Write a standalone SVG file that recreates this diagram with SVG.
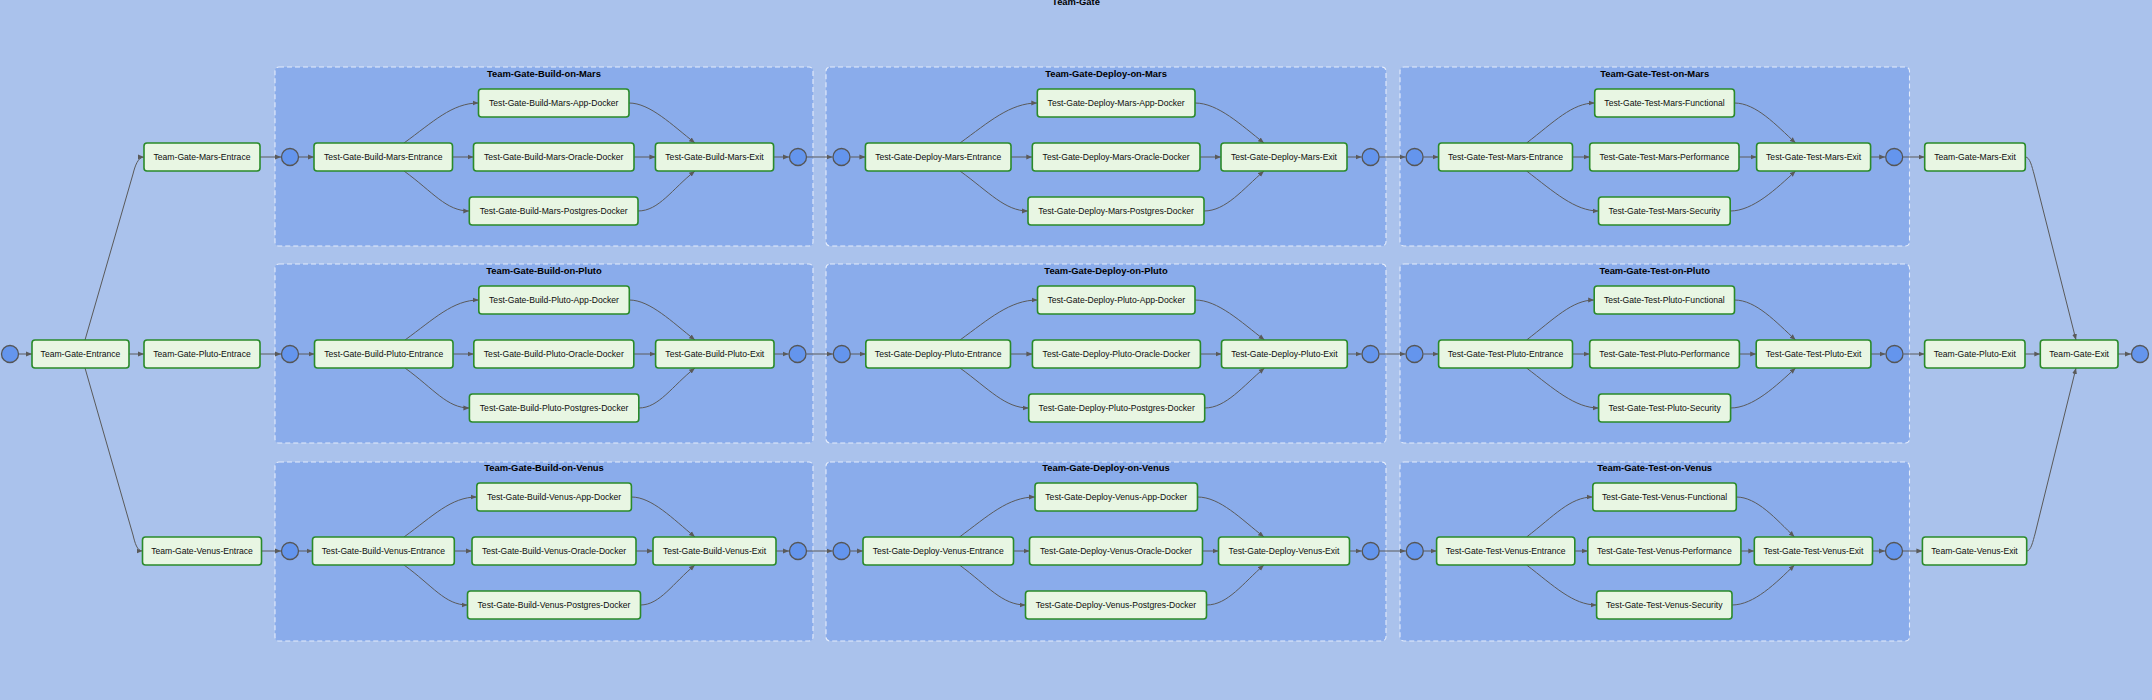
<svg xmlns="http://www.w3.org/2000/svg" width="2152" height="700" viewBox="0 0 2152 700">
<defs>
<style>
.bg{fill:#aac2ec}
.cl rect{fill:#8aaceb;stroke:#e4ecfb;stroke-width:1.1;stroke-dasharray:5 3}
.cl text,.ttl{font-family:"Liberation Sans",Arial,sans-serif;font-size:9.4px;font-weight:bold;fill:#000;text-anchor:middle}
.n rect{fill:#e8f6e3;stroke:#2a8a2a;stroke-width:1.6}
.n text{font-family:"Liberation Sans",Arial,sans-serif;font-size:8.6px;fill:#0d0d0d;text-anchor:middle}
.s circle{fill:#6495ed;stroke:#555;stroke-width:1.3}
.e path{fill:none;stroke:#5a5a5a;stroke-width:1;marker-end:url(#a)}
</style>
<marker id="a" viewBox="0 0 10 10" refX="10" refY="5" markerUnits="userSpaceOnUse" markerWidth="6" markerHeight="6" orient="auto">
<path d="M0,1 L10,5 L0,9 z" fill="#5a5a5a"/>
</marker>
</defs>
<rect class="bg" x="0" y="0" width="2152" height="700"/>
<text class="ttl" x="1076" y="5">Team-Gate</text>

<g id="clusters" class="cl">
<g id="Team-Gate-Build-on-Mars"><rect x="275" y="67" width="538" height="179" rx="4"/><text x="544" y="76.5">Team-Gate-Build-on-Mars</text></g>
<g id="Team-Gate-Deploy-on-Mars"><rect x="826" y="67" width="560" height="179" rx="4"/><text x="1106" y="76.5">Team-Gate-Deploy-on-Mars</text></g>
<g id="Team-Gate-Test-on-Mars"><rect x="1400" y="67" width="509.5" height="179" rx="4"/><text x="1654.7" y="76.5">Team-Gate-Test-on-Mars</text></g>
<g id="Team-Gate-Build-on-Pluto"><rect x="275" y="264" width="538" height="179" rx="4"/><text x="544" y="273.5">Team-Gate-Build-on-Pluto</text></g>
<g id="Team-Gate-Deploy-on-Pluto"><rect x="826" y="264" width="560" height="179" rx="4"/><text x="1106" y="273.5">Team-Gate-Deploy-on-Pluto</text></g>
<g id="Team-Gate-Test-on-Pluto"><rect x="1400" y="264" width="509.5" height="179" rx="4"/><text x="1654.7" y="273.5">Team-Gate-Test-on-Pluto</text></g>
<g id="Team-Gate-Build-on-Venus"><rect x="275" y="462" width="538" height="179" rx="4"/><text x="544" y="471">Team-Gate-Build-on-Venus</text></g>
<g id="Team-Gate-Deploy-on-Venus"><rect x="826" y="462" width="560" height="179" rx="4"/><text x="1106" y="471">Team-Gate-Deploy-on-Venus</text></g>
<g id="Team-Gate-Test-on-Venus"><rect x="1400" y="462" width="509.5" height="179" rx="4"/><text x="1654.7" y="471">Team-Gate-Test-on-Venus</text></g>
</g>

<g id="connectors" class="e">
<path d="M19,354 L32,354"/>
<path d="M85,340 L133,174 C135,166 138,157 144,157"/>
<path d="M129,354 L144,354"/>
<path d="M85,368 L133,535 C135,543 137,551 142.5,551"/>
<!-- Mars -->
<path d="M260,157 L281,157"/>
<path d="M299,157 L314,157"/>
<path d="M404,143 C433,122 452,103 478.5,103"/>
<path d="M452.5,157 L473.5,157"/>
<path d="M404,171 C433,192 446,211 469.3,211"/>
<path d="M629,103 C650,103 672,125 695,143"/>
<path d="M634,157 L655.4,157"/>
<path d="M638,211 C659,211 672,189 695,171"/>
<path d="M773.6,157 L789,157"/>
<path d="M807,157 L832.5,157"/>
<path d="M850.5,157 L865.4,157"/>
<path d="M960,143 C989,122 1010,103 1037.3,103"/>
<path d="M1011,157 L1032.3,157"/>
<path d="M960,171 C989,192 1005,211 1028,211"/>
<path d="M1195,103 C1218,103 1241,125 1264,143"/>
<path d="M1200,157 L1221,157"/>
<path d="M1204,211 C1226,211 1243,189 1264,171"/>
<path d="M1347,157 L1361.6,157"/>
<path d="M1379.6,157 L1405.6,157"/>
<path d="M1423.6,157 L1438.6,157"/>
<path d="M1526.6,143 C1554,122 1572,103 1594.7,103"/>
<path d="M1572.5,157 L1589.7,157"/>
<path d="M1526.6,171 C1554,192 1575,211 1598.5,211"/>
<path d="M1734.4,103 C1756,103 1776,125 1795.6,143"/>
<path d="M1739,157 L1756.6,157"/>
<path d="M1730.2,211 C1753,211 1776,189 1795.6,171"/>
<path d="M1870.6,157 L1885.2,157"/>
<path d="M1903.2,157 L1924.7,157"/>
<path d="M2025.3,157 C2030,157 2032,167 2034,174 L2076,340"/>
<!-- Pluto -->
<path d="M260,354 L281,354"/>
<path d="M299,354 L314.5,354"/>
<path d="M405,340 C434,319 453,300 478.8,300"/>
<path d="M453,354 L473.8,354"/>
<path d="M405,368 C434,389 447,408 469.4,408"/>
<path d="M629.3,300 C650,300 672,322 695,340"/>
<path d="M633.8,354 L655.6,354"/>
<path d="M638.8,408 C659,408 672,386 695,368"/>
<path d="M774,354 L788.5,354"/>
<path d="M806.5,354 L832.8,354"/>
<path d="M850.8,354 L865.8,354"/>
<path d="M960,340 C989,319 1010,300 1037.5,300"/>
<path d="M1010.5,354 L1032.4,354"/>
<path d="M960,368 C989,389 1005,408 1028.7,408"/>
<path d="M1195,300 C1218,300 1241,322 1264.5,340"/>
<path d="M1200.4,354 L1221.5,354"/>
<path d="M1204.7,408 C1226,408 1243,386 1264.5,368"/>
<path d="M1347.3,354 L1361.5,354"/>
<path d="M1379.5,354 L1405.5,354"/>
<path d="M1423.5,354 L1438.6,354"/>
<path d="M1526.6,340 C1554,319 1572,300 1594.2,300"/>
<path d="M1572.5,354 L1589.7,354"/>
<path d="M1526.6,368 C1554,389 1575,408 1598.6,408"/>
<path d="M1734.5,300 C1756,300 1776,322 1795.6,340"/>
<path d="M1739.4,354 L1756.2,354"/>
<path d="M1730.6,408 C1753,408 1776,386 1795.6,368"/>
<path d="M1870.9,354 L1885.5,354"/>
<path d="M1903.5,354 L1924.6,354"/>
<path d="M2025,354 L2040.3,354"/>
<path d="M2118,354 L2131,354"/>
<!-- Venus -->
<path d="M261.5,551 L281,551"/>
<path d="M299,551 L312.5,551"/>
<path d="M404,537 C433,516 451,497 476.8,497"/>
<path d="M454.3,551 L472,551"/>
<path d="M404,565 C433,586 445,605 467.5,605"/>
<path d="M631.4,497 C652,497 673,519 695,537"/>
<path d="M636,551 L653,551"/>
<path d="M640.4,605 C660,605 673,583 695,565"/>
<path d="M776,551 L789,551"/>
<path d="M807,551 L832.5,551"/>
<path d="M850.5,551 L863,551"/>
<path d="M959.5,537 C988,516 1008,497 1035,497"/>
<path d="M1013.5,551 L1029.5,551"/>
<path d="M959.5,565 C988,586 1002,605 1025.5,605"/>
<path d="M1197.5,497 C1220,497 1241,519 1264,537"/>
<path d="M1202.5,551 L1218.5,551"/>
<path d="M1206.5,605 C1228,605 1243,583 1264,565"/>
<path d="M1349.5,551 L1361.7,551"/>
<path d="M1379.7,551 L1405.8,551"/>
<path d="M1423.8,551 L1436.6,551"/>
<path d="M1526.6,537 C1554,516 1570,497 1592.8,497"/>
<path d="M1574.8,551 L1587.8,551"/>
<path d="M1526.6,565 C1554,586 1573,605 1596.6,605"/>
<path d="M1736.3,497 C1757,497 1776,519 1794.5,537"/>
<path d="M1740.9,551 L1754.3,551"/>
<path d="M1732,605 C1754,605 1776,583 1794.5,565"/>
<path d="M1872.5,551 L1885,551"/>
<path d="M1903,551 L1922.4,551"/>
<path d="M2026.7,551 C2031,551 2033,541 2035,534 L2076,368"/>
</g>

<g id="states" class="s">
<g id="start"><circle cx="10" cy="354" r="8.5"/></g>
<g id="mars-in"><circle cx="290" cy="157" r="8.5"/></g>
<g id="pluto-in"><circle cx="290" cy="354" r="8.5"/></g>
<g id="venus-in"><circle cx="290" cy="551" r="8.5"/></g>
<g id="build-mars-out"><circle cx="798" cy="157" r="8.5"/></g>
<g id="build-pluto-out"><circle cx="797.5" cy="354" r="8.5"/></g>
<g id="build-venus-out"><circle cx="798" cy="551" r="8.5"/></g>
<g id="deploy-mars-in"><circle cx="841.5" cy="157" r="8.5"/></g>
<g id="deploy-pluto-in"><circle cx="841.8" cy="354" r="8.5"/></g>
<g id="deploy-venus-in"><circle cx="841.5" cy="551" r="8.5"/></g>
<g id="deploy-mars-out"><circle cx="1370.6" cy="157" r="8.5"/></g>
<g id="deploy-pluto-out"><circle cx="1370.5" cy="354" r="8.5"/></g>
<g id="deploy-venus-out"><circle cx="1370.7" cy="551" r="8.5"/></g>
<g id="test-mars-in"><circle cx="1414.6" cy="157" r="8.5"/></g>
<g id="test-pluto-in"><circle cx="1414.5" cy="354" r="8.5"/></g>
<g id="test-venus-in"><circle cx="1414.8" cy="551" r="8.5"/></g>
<g id="test-mars-out"><circle cx="1894.2" cy="157" r="8.5"/></g>
<g id="test-pluto-out"><circle cx="1894.5" cy="354" r="8.5"/></g>
<g id="test-venus-out"><circle cx="1894" cy="551" r="8.5"/></g>
<g id="end"><circle cx="2140" cy="354" r="8.5"/></g>
</g>

<g id="nodes" class="n">
<g id="Team-Gate-Entrance"><rect x="32" y="340" width="97" height="28" rx="3"/><text x="80.5" y="357">Team-Gate-Entrance</text></g>
<g id="Team-Gate-Mars-Entrace"><rect x="144" y="143" width="116" height="28" rx="3"/><text x="202" y="160">Team-Gate-Mars-Entrace</text></g>
<g id="Team-Gate-Pluto-Entrace"><rect x="144" y="340" width="116" height="28" rx="3"/><text x="202" y="357">Team-Gate-Pluto-Entrace</text></g>
<g id="Team-Gate-Venus-Entrace"><rect x="142.5" y="537" width="119" height="28" rx="3"/><text x="202" y="554">Team-Gate-Venus-Entrace</text></g>

<g id="Test-Gate-Build-Mars-Entrance"><rect x="314" y="143" width="138.5" height="28" rx="3"/><text x="383.25" y="160">Test-Gate-Build-Mars-Entrance</text></g>
<g id="Test-Gate-Build-Mars-App-Docker"><rect x="478.5" y="89" width="150.5" height="28" rx="3"/><text x="553.75" y="106">Test-Gate-Build-Mars-App-Docker</text></g>
<g id="Test-Gate-Build-Mars-Oracle-Docker"><rect x="473.5" y="143" width="160.5" height="28" rx="3"/><text x="553.75" y="160">Test-Gate-Build-Mars-Oracle-Docker</text></g>
<g id="Test-Gate-Build-Mars-Postgres-Docker"><rect x="469.3" y="197" width="168.7" height="28" rx="3"/><text x="553.65" y="214">Test-Gate-Build-Mars-Postgres-Docker</text></g>
<g id="Test-Gate-Build-Mars-Exit"><rect x="655.4" y="143" width="118.2" height="28" rx="3"/><text x="714.5" y="160">Test-Gate-Build-Mars-Exit</text></g>

<g id="Test-Gate-Deploy-Mars-Entrance"><rect x="865.4" y="143" width="145.6" height="28" rx="3"/><text x="938.2" y="160">Test-Gate-Deploy-Mars-Entrance</text></g>
<g id="Test-Gate-Deploy-Mars-App-Docker"><rect x="1037.3" y="89" width="157.7" height="28" rx="3"/><text x="1116.15" y="106">Test-Gate-Deploy-Mars-App-Docker</text></g>
<g id="Test-Gate-Deploy-Mars-Oracle-Docker"><rect x="1032.3" y="143" width="167.7" height="28" rx="3"/><text x="1116.15" y="160">Test-Gate-Deploy-Mars-Oracle-Docker</text></g>
<g id="Test-Gate-Deploy-Mars-Postgres-Docker"><rect x="1028" y="197" width="176" height="28" rx="3"/><text x="1116" y="214">Test-Gate-Deploy-Mars-Postgres-Docker</text></g>
<g id="Test-Gate-Deploy-Mars-Exit"><rect x="1221" y="143" width="126" height="28" rx="3"/><text x="1284" y="160">Test-Gate-Deploy-Mars-Exit</text></g>

<g id="Test-Gate-Test-Mars-Entrance"><rect x="1438.6" y="143" width="133.9" height="28" rx="3"/><text x="1505.55" y="160">Test-Gate-Test-Mars-Entrance</text></g>
<g id="Test-Gate-Test-Mars-Functional"><rect x="1594.7" y="89" width="139.7" height="28" rx="3"/><text x="1664.55" y="106">Test-Gate-Test-Mars-Functional</text></g>
<g id="Test-Gate-Test-Mars-Performance"><rect x="1589.7" y="143" width="149.3" height="28" rx="3"/><text x="1664.35" y="160">Test-Gate-Test-Mars-Performance</text></g>
<g id="Test-Gate-Test-Mars-Security"><rect x="1598.5" y="197" width="131.7" height="28" rx="3"/><text x="1664.35" y="214">Test-Gate-Test-Mars-Security</text></g>
<g id="Test-Gate-Test-Mars-Exit"><rect x="1756.6" y="143" width="114" height="28" rx="3"/><text x="1813.6" y="160">Test-Gate-Test-Mars-Exit</text></g>

<g id="Test-Gate-Build-Pluto-Entrance"><rect x="314.5" y="340" width="138.5" height="28" rx="3"/><text x="383.75" y="357">Test-Gate-Build-Pluto-Entrance</text></g>
<g id="Test-Gate-Build-Pluto-App-Docker"><rect x="478.8" y="286" width="150.5" height="28" rx="3"/><text x="554.05" y="303">Test-Gate-Build-Pluto-App-Docker</text></g>
<g id="Test-Gate-Build-Pluto-Oracle-Docker"><rect x="473.8" y="340" width="160" height="28" rx="3"/><text x="553.8" y="357">Test-Gate-Build-Pluto-Oracle-Docker</text></g>
<g id="Test-Gate-Build-Pluto-Postgres-Docker"><rect x="469.4" y="394" width="169.4" height="28" rx="3"/><text x="554.1" y="411">Test-Gate-Build-Pluto-Postgres-Docker</text></g>
<g id="Test-Gate-Build-Pluto-Exit"><rect x="655.6" y="340" width="118.4" height="28" rx="3"/><text x="714.8" y="357">Test-Gate-Build-Pluto-Exit</text></g>

<g id="Test-Gate-Deploy-Pluto-Entrance"><rect x="865.8" y="340" width="144.7" height="28" rx="3"/><text x="938.15" y="357">Test-Gate-Deploy-Pluto-Entrance</text></g>
<g id="Test-Gate-Deploy-Pluto-App-Docker"><rect x="1037.5" y="286" width="157.5" height="28" rx="3"/><text x="1116.25" y="303">Test-Gate-Deploy-Pluto-App-Docker</text></g>
<g id="Test-Gate-Deploy-Pluto-Oracle-Docker"><rect x="1032.4" y="340" width="168" height="28" rx="3"/><text x="1116.4" y="357">Test-Gate-Deploy-Pluto-Oracle-Docker</text></g>
<g id="Test-Gate-Deploy-Pluto-Postgres-Docker"><rect x="1028.7" y="394" width="176" height="28" rx="3"/><text x="1116.7" y="411">Test-Gate-Deploy-Pluto-Postgres-Docker</text></g>
<g id="Test-Gate-Deploy-Pluto-Exit"><rect x="1221.5" y="340" width="125.8" height="28" rx="3"/><text x="1284.4" y="357">Test-Gate-Deploy-Pluto-Exit</text></g>

<g id="Test-Gate-Test-Pluto-Entrance"><rect x="1438.6" y="340" width="133.9" height="28" rx="3"/><text x="1505.55" y="357">Test-Gate-Test-Pluto-Entrance</text></g>
<g id="Test-Gate-Test-Pluto-Functional"><rect x="1594.2" y="286" width="140.3" height="28" rx="3"/><text x="1664.35" y="303">Test-Gate-Test-Pluto-Functional</text></g>
<g id="Test-Gate-Test-Pluto-Performance"><rect x="1589.7" y="340" width="149.7" height="28" rx="3"/><text x="1664.55" y="357">Test-Gate-Test-Pluto-Performance</text></g>
<g id="Test-Gate-Test-Pluto-Security"><rect x="1598.6" y="394" width="132" height="28" rx="3"/><text x="1664.6" y="411">Test-Gate-Test-Pluto-Security</text></g>
<g id="Test-Gate-Test-Pluto-Exit"><rect x="1756.2" y="340" width="114.7" height="28" rx="3"/><text x="1813.55" y="357">Test-Gate-Test-Pluto-Exit</text></g>

<g id="Test-Gate-Build-Venus-Entrance"><rect x="312.5" y="537" width="141.8" height="28" rx="3"/><text x="383.4" y="554">Test-Gate-Build-Venus-Entrance</text></g>
<g id="Test-Gate-Build-Venus-App-Docker"><rect x="476.8" y="483" width="154.6" height="28" rx="3"/><text x="554.1" y="500">Test-Gate-Build-Venus-App-Docker</text></g>
<g id="Test-Gate-Build-Venus-Oracle-Docker"><rect x="472" y="537" width="164" height="28" rx="3"/><text x="554" y="554">Test-Gate-Build-Venus-Oracle-Docker</text></g>
<g id="Test-Gate-Build-Venus-Postgres-Docker"><rect x="467.5" y="591" width="173" height="28" rx="3"/><text x="554" y="608">Test-Gate-Build-Venus-Postgres-Docker</text></g>
<g id="Test-Gate-Build-Venus-Exit"><rect x="653" y="537" width="123" height="28" rx="3"/><text x="714.5" y="554">Test-Gate-Build-Venus-Exit</text></g>

<g id="Test-Gate-Deploy-Venus-Entrance"><rect x="863" y="537" width="150.5" height="28" rx="3"/><text x="938.25" y="554">Test-Gate-Deploy-Venus-Entrance</text></g>
<g id="Test-Gate-Deploy-Venus-App-Docker"><rect x="1035" y="483" width="162.5" height="28" rx="3"/><text x="1116.25" y="500">Test-Gate-Deploy-Venus-App-Docker</text></g>
<g id="Test-Gate-Deploy-Venus-Oracle-Docker"><rect x="1029.5" y="537" width="173" height="28" rx="3"/><text x="1116" y="554">Test-Gate-Deploy-Venus-Oracle-Docker</text></g>
<g id="Test-Gate-Deploy-Venus-Postgres-Docker"><rect x="1025.5" y="591" width="181" height="28" rx="3"/><text x="1116" y="608">Test-Gate-Deploy-Venus-Postgres-Docker</text></g>
<g id="Test-Gate-Deploy-Venus-Exit"><rect x="1218.5" y="537" width="131" height="28" rx="3"/><text x="1284" y="554">Test-Gate-Deploy-Venus-Exit</text></g>

<g id="Test-Gate-Test-Venus-Entrance"><rect x="1436.6" y="537" width="138.2" height="28" rx="3"/><text x="1505.7" y="554">Test-Gate-Test-Venus-Entrance</text></g>
<g id="Test-Gate-Test-Venus-Functional"><rect x="1592.8" y="483" width="143.5" height="28" rx="3"/><text x="1664.55" y="500">Test-Gate-Test-Venus-Functional</text></g>
<g id="Test-Gate-Test-Venus-Performance"><rect x="1587.8" y="537" width="153.1" height="28" rx="3"/><text x="1664.35" y="554">Test-Gate-Test-Venus-Performance</text></g>
<g id="Test-Gate-Test-Venus-Security"><rect x="1596.6" y="591" width="135.4" height="28" rx="3"/><text x="1664.3" y="608">Test-Gate-Test-Venus-Security</text></g>
<g id="Test-Gate-Test-Venus-Exit"><rect x="1754.3" y="537" width="118.2" height="28" rx="3"/><text x="1813.4" y="554">Test-Gate-Test-Venus-Exit</text></g>

<g id="Team-Gate-Mars-Exit"><rect x="1924.7" y="143" width="100.6" height="28" rx="3"/><text x="1975" y="160">Team-Gate-Mars-Exit</text></g>
<g id="Team-Gate-Pluto-Exit"><rect x="1924.6" y="340" width="100.4" height="28" rx="3"/><text x="1974.8" y="357">Team-Gate-Pluto-Exit</text></g>
<g id="Team-Gate-Venus-Exit"><rect x="1922.4" y="537" width="104.3" height="28" rx="3"/><text x="1974.55" y="554">Team-Gate-Venus-Exit</text></g>
<g id="Team-Gate-Exit"><rect x="2040.3" y="340" width="77.7" height="28" rx="3"/><text x="2079.15" y="357">Team-Gate-Exit</text></g>
</g>
</svg>
